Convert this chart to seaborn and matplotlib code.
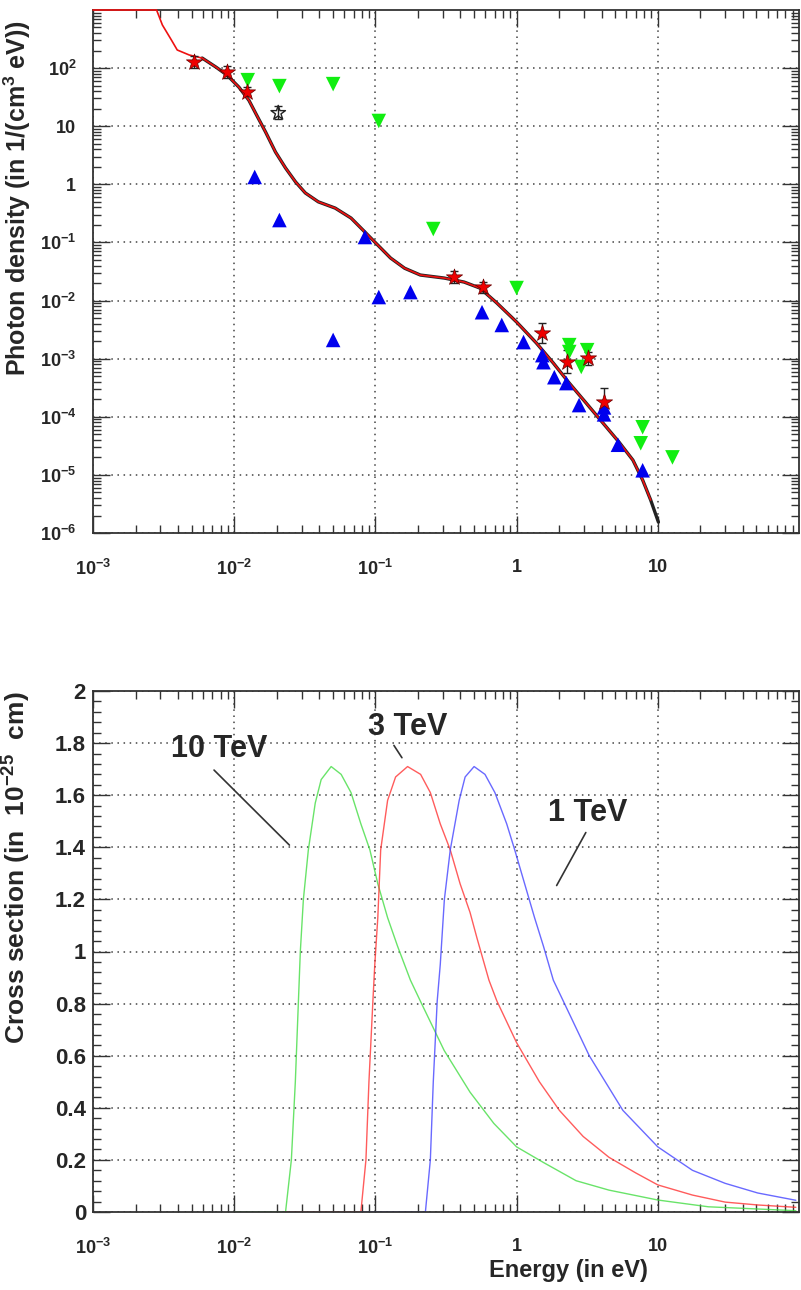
import matplotlib
matplotlib.use("Agg")
import numpy as np
import seaborn as sns
import matplotlib.pyplot as plt
from matplotlib.ticker import FixedLocator, LogLocator, MultipleLocator, NullFormatter, FuncFormatter

# ---- top panel: photon density (energies in eV) ----
model_e = [0.001, 0.00282, 0.0031, 0.00359, 0.00395, 0.00481, 0.00593, 0.00743, 0.00889,
           0.0108, 0.0127, 0.0144, 0.0167, 0.0196, 0.0231, 0.0272, 0.0319, 0.0394, 0.0519,
           0.0672, 0.0843, 0.104, 0.128, 0.161, 0.208, 0.307, 0.425, 0.550, 0.725, 1.0, 1.38,
           1.82, 2.36, 3.11, 4.09, 5.31, 6.66, 7.82, 8.9, 10.1]
model_n = [1000, 1000, 552, 305, 205, 168, 149, 104, 76, 47, 28, 15.6, 7.9, 3.6, 1.91, 1.10,
           0.71, 0.50, 0.39, 0.263, 0.151, 0.090, 0.054, 0.036, 0.0275, 0.0244, 0.0208, 0.0164,
           0.00906, 0.00427, 0.00186, 8.4e-4, 3.8e-4, 1.72e-4, 7.8e-5, 3.67e-5, 1.8e-5, 8.1e-6,
           3.7e-6, 1.54e-6]

red_e = [0.0052, 0.0089, 0.0123, 0.361, 0.578, 1.52, 2.29, 3.21, 4.16]
red_n = [127, 86, 39, 0.0254, 0.017, 0.00276, 8.9e-4, 1.02e-3, 1.8e-4]
red_err = [0.25, 0.25, 0.2, 0.25, 0.25, 0.5, 0.6, 0.3, 0.75]

open_e = [0.0205]
open_n = [16.9]
open_err = [0.3]

green_e = [0.01247, 0.0209, 0.0502, 0.1057, 0.257, 1.0, 2.36, 2.36, 3.16, 2.87, 7.81, 7.57, 12.7]
green_n = [62, 49, 53, 12.3, 0.170, 0.0164, 1.71e-3, 1.3e-3, 1.4e-3, 7.2e-4, 6.6e-5, 3.5e-5, 2.0e-5]

blue_e = [0.01397, 0.0209, 0.0843, 0.1057, 0.0502, 0.177, 0.569, 0.785, 1.12, 1.52, 1.55,
          1.85, 2.25, 2.77, 4.16, 4.16, 5.22, 7.81]
blue_n = [1.34, 0.243, 0.124, 0.0115, 2.1e-3, 0.014, 0.0063, 0.0038, 1.93e-3, 1.15e-3, 8.7e-4,
          4.8e-4, 3.8e-4, 1.59e-4, 1.45e-4, 1.1e-4, 3.3e-5, 1.2e-5]

# ---- bottom panel: cross sections ----
tev10_e = [0.01, 0.0231, 0.0254, 0.0271, 0.0285, 0.0294, 0.0309, 0.0335, 0.0375, 0.0413, 0.0486,
           0.0572, 0.0672, 0.0789, 0.0914, 0.104, 0.122, 0.1436, 0.177, 0.208, 0.307, 0.468,
           0.69, 1.0, 1.55, 2.64, 4.51, 10, 22.8, 95]
tev10_s = [0, 0, 0.2, 0.5, 0.81, 1.0, 1.20, 1.39, 1.57, 1.66, 1.71, 1.68, 1.61, 1.49, 1.39, 1.26,
           1.13, 1.02, 0.89, 0.81, 0.62, 0.46, 0.34, 0.25, 0.19, 0.12, 0.084, 0.046, 0.02, 0.005]
tev3_e = [0.023, 0.0789, 0.0857, 0.09, 0.096, 0.099, 0.104, 0.109, 0.122, 0.139, 0.169, 0.209,
          0.245, 0.288, 0.339, 0.398, 0.468, 0.525, 0.637, 0.725, 1.0, 1.45, 2.01, 2.96, 4.51,
          6.98, 10, 17.6, 30, 51, 95]
tev3_s = [0, 0, 0.2, 0.5, 0.81, 0.95, 1.13, 1.39, 1.58, 1.67, 1.71, 1.68, 1.61, 1.49, 1.39, 1.26,
          1.15, 1.05, 0.89, 0.81, 0.65, 0.50, 0.39, 0.29, 0.21, 0.15, 0.104, 0.065, 0.038, 0.027,
          0.018]
tev1_e = [0.079, 0.226, 0.245, 0.257, 0.274, 0.288, 0.308, 0.339, 0.392, 0.432, 0.50, 0.597,
          0.702, 0.851, 0.97, 1.14, 1.34, 1.55, 1.82, 2.14, 3.27, 5.66, 10, 17.6, 30, 51, 95]
tev1_s = [0, 0, 0.2, 0.5, 0.81, 0.95, 1.20, 1.39, 1.58, 1.67, 1.71, 1.68, 1.61, 1.49, 1.39, 1.26,
          1.13, 1.02, 0.89, 0.81, 0.60, 0.39, 0.25, 0.16, 0.11, 0.073, 0.045]

sns.set_theme(style="ticks")
plt.rcParams['font.family'] = ['Liberation Sans', 'DejaVu Sans']
plt.rcParams['font.weight'] = 'bold'
plt.rcParams['axes.unicode_minus'] = False
plt.rcParams['mathtext.fontset'] = 'custom'
plt.rcParams['mathtext.rm'] = 'Liberation Sans:bold'
plt.rcParams['mathtext.bf'] = 'Liberation Sans:bold'
plt.rcParams['mathtext.it'] = 'Liberation Sans:bold'
plt.rcParams['mathtext.default'] = 'regular'


def log_label(v, pos):
    e = int(round(np.log10(v)))
    if e == 0:
        return '1'
    if e == 1:
        return '10'
    return '10$^{%d}$' % e


def root_axes(ax):
    ax.tick_params(which='major', direction='in', length=12, width=1, top=True, right=True,
                   labelsize=13, color='#333333')
    ax.tick_params(which='minor', direction='in', length=6, width=1, top=True, right=True,
                   color='#333333')
    for s in ax.spines.values():
        s.set_linewidth(1.3)
        s.set_color('#333333')
    ax.grid(True, which='major', ls=(0, (1, 3)), color='#444444', lw=1.1)
    ax.set_axisbelow(True)


def log_x(ax):
    ax.set_xscale('log')
    ax.set_xlim(1e-3, 1e2)
    ax.xaxis.set_major_locator(FixedLocator([1e-3, 1e-2, 1e-1, 1, 10]))
    ax.xaxis.set_minor_locator(LogLocator(base=10, subs=np.arange(2, 10), numticks=20))
    ax.xaxis.set_major_formatter(FuncFormatter(log_label))
    ax.xaxis.set_minor_formatter(NullFormatter())


fig = plt.figure(figsize=(8.01, 12.9), dpi=100)
ax1 = fig.add_axes([93 / 801, 1 - 533 / 1290, 706 / 801, 523 / 1290])
ax2 = fig.add_axes([93 / 801, 1 - 1212 / 1290, 706 / 801, 521 / 1290])

# top panel
log_x(ax1)
ax1.set_yscale('log')
ax1.set_ylim(1e-6, 1e3)

sns.lineplot(x=model_e[6:], y=model_n[6:], ax=ax1, color='#222222', lw=2.4,
             estimator=None, sort=False)
sns.lineplot(x=model_e[:-1], y=model_n[:-1], ax=ax1, color='#ee1111', lw=1.2,
             estimator=None, sort=False)
ax1.lines[-1].set_clip_on(False)
ax1.lines[-1].set_zorder(3)

red_lo = [n * e / (1 + e) for n, e in zip(red_n, red_err)]
red_hi = [n * e for n, e in zip(red_n, red_err)]
ax1.errorbar(red_e, red_n, yerr=[red_lo, red_hi], fmt='none', ecolor='#222222',
             elinewidth=1, capsize=3, zorder=3)
ax1.errorbar(open_e, open_n, yerr=[[open_n[0] * 0.2], [open_n[0] * open_err[0]]], fmt='none',
             ecolor='#222222', elinewidth=1, capsize=3, zorder=3)

sns.scatterplot(x=green_e, y=green_n, ax=ax1, marker='v', s=110, color='#11ee11',
                edgecolor='none', zorder=4)
sns.scatterplot(x=blue_e, y=blue_n, ax=ax1, marker='^', s=110, color='#0000ee',
                edgecolor='none', zorder=4)
sns.scatterplot(x=red_e, y=red_n, ax=ax1, marker='*', s=150, color='#ee0000',
                edgecolor='#660000', linewidth=0.5, zorder=5)
sns.scatterplot(x=open_e, y=open_n, ax=ax1, marker='*', s=120, facecolor='none',
                edgecolor='#222222', linewidth=1, zorder=5)

ax1.yaxis.set_major_locator(FixedLocator([10.0 ** k for k in range(-6, 3)]))
ax1.yaxis.set_minor_locator(LogLocator(base=10, subs=np.arange(2, 10), numticks=20))
ax1.yaxis.set_major_formatter(FuncFormatter(log_label))
ax1.yaxis.set_minor_formatter(NullFormatter())
root_axes(ax1)
ax1.tick_params(axis='y', which='major', pad=12)
ax1.tick_params(axis='x', which='major', pad=19)
ax1.set_ylabel('Photon density (in 1/(cm$^{3}$ eV))', fontsize=18, fontweight='bold',
               loc='top')
ax1.yaxis.set_label_coords(-0.085, 0.98)

# bottom panel
log_x(ax2)
ax2.set_ylim(0, 2)
sns.lineplot(x=tev10_e, y=tev10_s, ax=ax2, color='#44dd44', lw=1.0, alpha=0.8,
             estimator=None, sort=False)
sns.lineplot(x=tev3_e, y=tev3_s, ax=ax2, color='#ff3333', lw=1.0, alpha=0.8,
             estimator=None, sort=False)
sns.lineplot(x=tev1_e, y=tev1_s, ax=ax2, color='#4444ff', lw=1.0, alpha=0.8,
             estimator=None, sort=False)

ax2.yaxis.set_major_locator(MultipleLocator(0.2))
ax2.yaxis.set_minor_locator(MultipleLocator(0.04))
ax2.yaxis.set_major_formatter(FuncFormatter(lambda v, p: '%g' % round(v, 1)))
root_axes(ax2)
ax2.tick_params(axis='y', which='major', pad=5, labelsize=16)
ax2.tick_params(axis='x', which='major', pad=19)
ax2.set_ylabel('Cross section (in  10$^{-25}$  cm)', fontsize=19, fontweight='bold',
               loc='top')
ax2.yaxis.set_label_coords(-0.085, 1.0)
ax2.set_xlabel('Energy (in eV)', fontsize=17, fontweight='bold')
ax2.xaxis.set_label_coords(0.673, -0.09)

line_kw = dict(arrowstyle='-', color='#333333', lw=1.2)
ax2.text(0.0078, 1.777, '10 TeV', fontsize=22, fontweight='bold', ha='center', va='center')
ax2.annotate('', xy=(0.0254, 1.401), xytext=(0.00697, 1.704), arrowprops=line_kw)
ax2.text(0.169, 1.86, '3 TeV', fontsize=22, fontweight='bold', ha='center', va='center')
ax2.annotate('', xy=(0.158, 1.735), xytext=(0.132, 1.80), arrowprops=line_kw)
ax2.text(3.21, 1.53, '1 TeV', fontsize=22, fontweight='bold', ha='center', va='center')
ax2.annotate('', xy=(1.88, 1.244), xytext=(3.16, 1.466), arrowprops=line_kw)

fig.savefig('out.png', dpi=100)
